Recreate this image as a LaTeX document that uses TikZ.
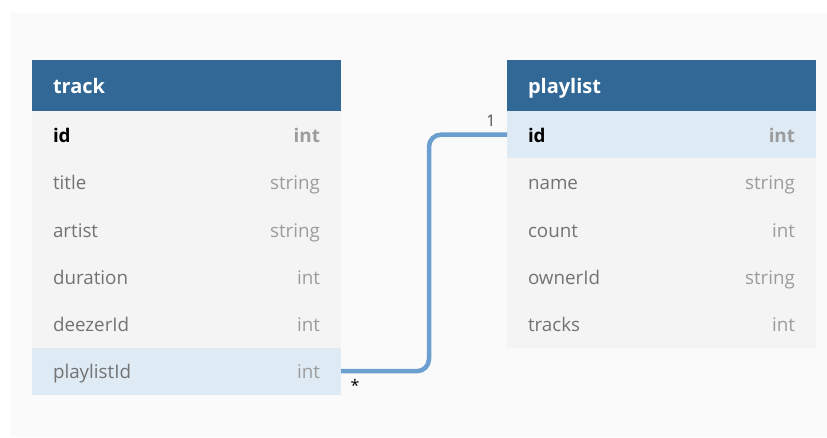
\documentclass[tikz,border=0pt]{standalone}
\usepackage{fontspec}
\setmainfont{Open Sans}
\usetikzlibrary{positioning}

\definecolor{hdrblue}{HTML}{316896}
\definecolor{rowgray}{HTML}{F4F4F4}
\definecolor{rowhi}{HTML}{DEEBF4}
\definecolor{bggray}{HTML}{FAFAFA}
\definecolor{namegray}{HTML}{737373}
\definecolor{typegray}{HTML}{9C9C9C}
\definecolor{linkblue}{HTML}{6A9FCF}

\newcommand{\fieldrow}[2]{{\color{namegray}#1}\hfill{\color{typegray}#2}}
\newcommand{\keyrow}[2]{{\bfseries\color{black}#1}\hfill{\bfseries\color{typegray}#2}}

\tikzset{
  tblhead/.style={rectangle, fill=hdrblue, text=white, anchor=north west,
    minimum width=309pt, minimum height=51pt, inner sep=0pt, outer sep=0pt,
    text width=267pt, text height=18pt, text depth=2pt, align=left,
    font=\bfseries\fontsize{20}{24}\selectfont},
  tblrow/.style={rectangle, fill=rowgray, minimum width=309pt, minimum height=47.3pt,
    inner sep=0pt, outer sep=0pt, text width=267pt, text height=17pt, text depth=1.5pt,
    align=left, font=\fontsize{18.8}{22}\selectfont},
  tblkey/.style={tblrow, fill=rowhi},
  link/.style={draw=linkblue, line width=4.5pt, rounded corners=12pt},
  mult/.style={inner sep=0pt, font=\fontsize{16}{18}\selectfont}
}

\begin{document}
\begin{tikzpicture}[x=1pt, y=-1pt]
    \useasboundingbox (0,0) rectangle (827,437);
    \fill[bggray] (10,13) rectangle (827,437);

    % track table
    \node[tblhead] (track) at (32,60) {track};
    \node[tblrow, anchor=north] (tid) at (track.south) {\keyrow{id}{int}};
    \node[tblrow, below=0pt of tid] (ttitle) {\fieldrow{title}{string}};
    \node[tblrow, below=0pt of ttitle] (tartist) {\fieldrow{artist}{string}};
    \node[tblrow, below=0pt of tartist] (tduration) {\fieldrow{duration}{int}};
    \node[tblrow, below=0pt of tduration] (tdeezer) {\fieldrow{deezerId}{int}};
    \node[tblkey, below=0pt of tdeezer] (tplaylist) {\fieldrow{playlistId}{int}};

    % playlist table
    \node[tblhead] (playlist) at (507,60) {playlist};
    \node[tblkey, anchor=north] (pid) at (playlist.south) {\keyrow{id}{int}};
    \node[tblrow, below=0pt of pid] (pname) {\fieldrow{name}{string}};
    \node[tblrow, below=0pt of pname] (pcount) {\fieldrow{count}{int}};
    \node[tblrow, below=0pt of pcount] (powner) {\fieldrow{ownerId}{string}};
    \node[tblrow, below=0pt of powner] (ptracks) {\fieldrow{tracks}{int}};

    % relation
    \coordinate (bend) at (429,0);
    \draw[link] (tplaylist.east) -| (bend |- pid.west) -- (pid.west);
    \node[mult, text=black!70] (one) at (491,121) {1};
    \node[mult] (many) at (355,385) {*};
\end{tikzpicture}
\end{document}
